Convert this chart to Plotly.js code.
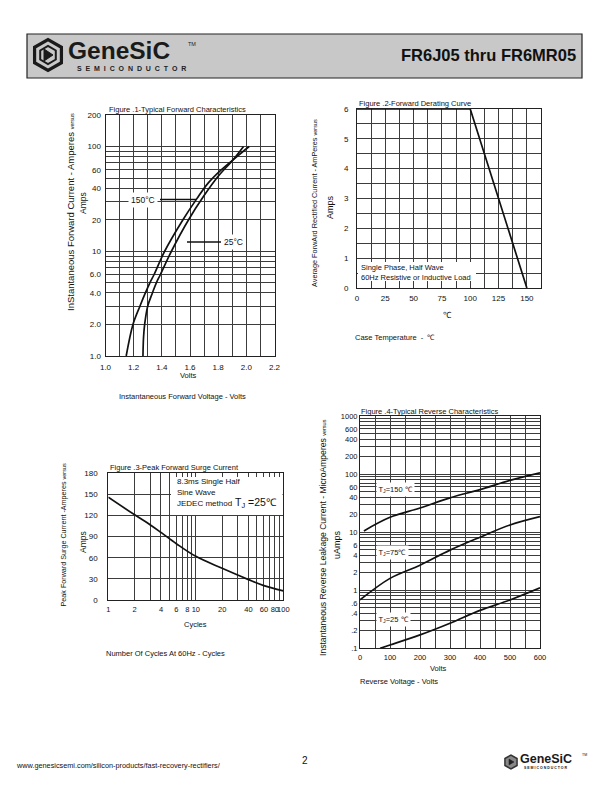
<!DOCTYPE html>
<html><head><meta charset="utf-8">
<script src="https://cdn.plot.ly/plotly-3.0.1.min.js"></script>
<style>body{margin:0;background:#fff}#p{width:612px;height:792px}</style>
</head><body><div id="p"></div>
<script>
// ---------- data ----------
const fig1Volts150 = [1.147,1.195,1.245,1.283,1.315,1.345,1.42,1.55,1.65,1.73,1.81,1.907,2.02];
const fig1Amps150  = [1,2,3,4,5,6,10,20,32,45,58,75,100];
const fig1Volts25  = [1.266,1.270,1.278,1.300,1.333,1.361,1.390,1.468,1.59,1.70,1.80,1.907,1.98];
const fig1Amps25   = [1,1.5,2,3,4,5,6,10,20,34,52,75,100];

const fig2Temp = [0,100,150];
const fig2Amps = [6,6,0];

const fig3Cycles = [1,2,3,4,6,10,20,40,60,100];
const fig3Amps   = [146,121,107,96,80,62,45,29,20.5,13];

const fig4Volts150 = [13,100,200,300,400,500,600];
const fig4uA150    = [10.5,18,26,39,54,78,105];
const fig4Volts75  = [0,100,200,300,400,500,600];
const fig4uA75     = [0.68,1.6,2.7,4.9,8.2,13.3,18.5];
const fig4Volts25  = [67,100,200,300,400,500,600];
const fig4uA25     = [0.1,0.114,0.17,0.27,0.45,0.68,1.1];

// ---------- tick labels ----------
const fig1XTicks  = [1.0,1.1,1.2,1.3,1.4,1.5,1.6,1.7,1.8,1.9,2.0,2.1,2.2];
const fig1XLabels = ['1.0','','1.2','','1.4','','1.6','','1.8','','2.0','','2.2'];
const fig1YTicks  = [1,2,3,4,5,6,7,8,9,10,20,30,40,50,60,70,80,90,100,200];
const fig1YLabels = ['1.0','2.0','','4.0','','6.0','','','','10','20','','40','','60','','','','100','200'];
const fig2XTicks  = [0,12.5,25,37.5,50,62.5,75,87.5,100,112.5,125,137.5,150,162.5];
const fig2XLabels = ['0','','25','','50','','75','','100','','125','','150',''];
const fig2YTicks  = [0,0.5,1,1.5,2,2.5,3,3.5,4,4.5,5,5.5,6];
const fig2YLabels = ['0','','1','','2','','3','','4','','5','','6'];
const fig3XTicks  = [1,2,3,4,5,6,7,8,9,10,20,30,40,50,60,70,80,90,100];
const fig3XLabels = ['1','2','','4','','6','','8','','10','20','','40','','60','','80','','100'];
const fig3YTicks  = [0,30,60,90,120,150,180];
const fig3YLabels = ['0','30','60','90','120','150','180'];
const fig4XTicks  = [0,50,100,150,200,250,300,350,400,450,500,550,600];
const fig4XLabels = ['0','','100','','200','','300','','400','','500','','600'];
const fig4YTicks  = [0.1,0.2,0.3,0.4,0.5,0.6,0.7,0.8,0.9,1,2,3,4,5,6,7,8,9,10,20,30,40,50,60,70,80,90,100,200,300,400,500,600,700,800,900,1000];
const fig4YLabels = ['.1','.2','','.4','','.6','','','','1','2','','4','','6','','','','10','20','','40','','60','','','','100','200','','400','','600','','','','1000'];

// ---------- helpers ----------
const W=612, H=792;
const F='Liberation Sans, Arial, sans-serif';
const px = x => x/W;
const py = y => 1 - y/H;
function ann(text, x, y, o={}) {
  const a = {text, x:px(x), y:py(y), xref:'paper', yref:'paper', showarrow:false,
    xanchor:o.xa||'center', yanchor:o.ya||'middle',
    font:{family:o.family||F, size:o.size||8, color:o.color||'#111'}};
  if (o.angle!==undefined) a.textangle=o.angle;
  if (o.bg) {a.bgcolor=o.bg; a.borderpad=o.pad||1;}
  if (o.align) a.align=o.align;
  return a;
}
function rect(x0,y0,x1,y1,fill,lc,lw){
  return {type:'rect',xref:'paper',yref:'paper',x0:px(x0),x1:px(x1),y0:py(y1),y1:py(y0),
    fillcolor:fill,line:{color:lc||fill,width:lw===undefined?0:lw},layer:'above'};
}
function seg(x0,y0,x1,y1,c,w){
  return {type:'line',xref:'paper',yref:'paper',x0:px(x0),x1:px(x1),y0:py(y0),y1:py(y1),
    line:{color:c||'#111',width:w||1.2},layer:'above'};
}
function poly(pts,fill,lc,lw){
  let d='M'+pts.map(p=>px(p[0]).toFixed(5)+','+py(p[1]).toFixed(5)).join('L')+'Z';
  return {type:'path',xref:'paper',yref:'paper',path:d,fillcolor:fill,line:{color:lc,width:lw},layer:'above'};
}
function hexPts(cx,cy,r){
  const p=[]; for(let i=0;i<6;i++){const a=Math.PI/6+i*Math.PI/3; p.push([cx+r*Math.cos(a),cy+r*Math.sin(a)]);} return p;
}

function axis(extra){
  return Object.assign({showline:true, mirror:true, linecolor:'#222', linewidth:1,
    showgrid:true, gridcolor:'#3c3c3c', gridwidth:1, zeroline:false, ticks:'', tickangle:0,
    tickmode:'array', tickfont:{family:F,size:8,color:'#111'}, fixedrange:true}, extra);
}
const line = {color:'#111', width:1.7, shape:'spline', smoothing:1};

const traces = [
  {x:fig1Volts150, y:fig1Amps150, xaxis:'x', yaxis:'y', mode:'lines', line},
  {x:fig1Volts25,  y:fig1Amps25,  xaxis:'x', yaxis:'y', mode:'lines', line},
  {x:fig2Temp, y:fig2Amps, xaxis:'x2', yaxis:'y2', mode:'lines', line:{color:'#111',width:1.7}},
  {x:fig3Cycles, y:fig3Amps, xaxis:'x3', yaxis:'y3', mode:'lines', line},
  {x:fig4Volts150, y:fig4uA150, xaxis:'x4', yaxis:'y4', mode:'lines', line},
  {x:fig4Volts75,  y:fig4uA75,  xaxis:'x4', yaxis:'y4', mode:'lines', line},
  {x:fig4Volts25,  y:fig4uA25,  xaxis:'x4', yaxis:'y4', mode:'lines', line},
];

const vs = t => t + ' <span style="font-size:5.5px">versus</span>';

const annotations = [
  // header
  ann('<b>FR6J05 thru FR6MR05</b>', 578, 55, {xa:'right', size:16.5, color:'#111'}),
  ann('<b>GeneSiC</b>', 66, 50, {xa:'left', size:24.5, color:'#1a1a1a'}),
  ann('TM', 186, 44, {xa:'left', size:5.5, color:'#222'}),
  ann('<b>'+'SEMICONDUCTOR'.split('').join('\u00a0\u00a0')+'</b>', 75, 68, {xa:'left', size:7, color:'#222'}),
  // chart 1
  ann('Figure .1-Typical Forward Characteristics', 107, 110, {xa:'left', size:7.5}),
  ann(vs('InStantaneous Forward Current - Amperes'), 70, 212, {angle:-90, size:9.5}),
  ann('Amps', 83, 203, {angle:-90, size:8.5}),
  ann('Volts', 188, 375, {size:7.5}),
  ann('Instantaneous Forward Voltage - Volts', 182, 396, {size:7.5}),
  ann('150°C', 143, 199.5, {size:8.5, bg:'#fff', pad:2}),
  ann('25°C', 233, 242, {size:8.5, bg:'#fff', pad:2}),
  // chart 2
  ann('Figure .2-Forward Derating Curve', 357, 104, {xa:'left', size:7.5}),
  ann(vs('Average ForwArd Rectified Current - AmPeres'), 315, 203, {angle:-90, size:7.3}),
  ann('Amps', 330, 207, {angle:-90, size:9}),
  ann('℃', 448, 315, {size:8.5}),
  ann('Case Temperature  -  ℃', 353, 338, {xa:'left', size:7.5}),
  ann('Single Phase, Half Wave<br>60Hz Resistive or Inductive Load', 359, 272, {xa:'left', size:7.5, align:'left'}),
  // chart 3
  ann('Figure .3-Peak Forward Surge Current', 108, 467, {xa:'left', size:7.5}),
  ann(vs('Peak Forward Surge Current -Amperes'), 62.5, 535, {angle:-90, size:7.2}),
  ann('Amps', 83, 542, {angle:-90, size:8.5}),
  ann('Cycles', 195, 624, {size:7.5}),
  ann('Number Of Cycles At 60Hz - Cycles', 165, 653, {size:7.5}),
  ann('8.3ms Single Half', 175, 481.5, {xa:'left', size:8}),
  ann('Sine Wave', 175, 492.5, {xa:'left', size:8}),
  ann('JEDEC method', 175, 503.5, {xa:'left', size:8}),
  ann('T<sub>J</sub> =25℃', 233, 503, {xa:'left', size:10.5}),
  // chart 4
  ann('Figure .4-Typical Reverse Characteristics', 359, 411, {xa:'left', size:7.5}),
  ann(vs('Instantaneous Reverse Leakage Current - MicroAmperes'), 323, 538, {angle:-90, size:8.6}),
  ann('uAmps', 337, 545, {angle:-90, size:9}),
  ann('Volts', 438, 668, {size:7.5}),
  ann('Reverse Voltage - Volts', 358, 681, {xa:'left', size:7.5}),
  ann('T<sub>J</sub>=150 ℃', 376, 489, {xa:'left', size:7.5, bg:'#fff', pad:1.5}),
  ann('T<sub>J</sub>=75℃', 376, 552, {xa:'left', size:7.5, bg:'#fff', pad:1.5}),
  ann('T<sub>J</sub>=25 ℃', 376, 619, {xa:'left', size:7.5, bg:'#fff', pad:1.5}),
  // footer
  ann('www.genesicsemi.com/silicon-products/fast-recovery-rectifiers/', 14, 765, {xa:'left', size:7.3}),
  ann('2', 305, 760, {size:10}),
  ann('<b>GeneSiC</b>', 518, 759, {xa:'left', size:12.5, color:'#1a1a1a'}),
  ann('TM', 580, 755, {xa:'left', size:3.5}),
  ann('<b>'+'SEMICONDUCTOR'.split('').join('\u00a0')+'</b>', 522, 768, {xa:'left', size:3.5}),
];

const shapes = [
  rect(27,34,582,78,'#c8c8c8','#222',1.2),
  // header logo icon
  poly(hexPts(48,55,15.5),'#c8c8c8','#1a1a1a',3.2),
  poly(hexPts(48,55,9),'#c8c8c8','#1a1a1a',2),
  poly([[44,49],[44,61],[53,55]],'#1a1a1a','#1a1a1a',1),
  // footer logo icon
  poly(hexPts(511,762,7),'#888','#333',1.5),
  poly([[509,759],[509,765],[514,762]],'#222','#222',0.5),
  // white boxes
  rect(358,262,476,281,'#ffffff'),
  rect(171,477,282.5,515,'#ffffff'),
  // leader lines
  seg(160,199.5,196,199.5,'#111',1.3),
  seg(187,242,221,242,'#111',1.3),
];

const layout = {
  width:W, height:H, margin:{l:0,r:0,t:0,b:0}, showlegend:false,
  paper_bgcolor:'#fff', plot_bgcolor:'#fff',
  xaxis: axis({domain:[px(105.5),px(274.5)], range:[1.0,2.2], anchor:'y', tickvals:fig1XTicks, ticktext:fig1XLabels, ticklabelstandoff:3}),
  yaxis: axis({type:'log', domain:[py(356),py(115)], range:[0,Math.log10(200)], anchor:'x', tickvals:fig1YTicks, ticktext:fig1YLabels, ticklabelstandoff:2}),
  xaxis2: axis({domain:[px(357),px(541)], range:[0,162.5], anchor:'y2', tickvals:fig2XTicks, ticktext:fig2XLabels, ticklabelstandoff:2}),
  yaxis2: axis({domain:[py(288),py(109)], range:[0,6], anchor:'x2', tickvals:fig2YTicks, ticktext:fig2YLabels, ticklabelstandoff:6}),
  xaxis3: axis({type:'log', domain:[px(108.3),px(283.3)], range:[0,2], anchor:'y3', tickvals:fig3XTicks, ticktext:fig3XLabels, ticklabelstandoff:2, tickfont:{family:F,size:7.5,color:'#111'}}),
  yaxis3: axis({domain:[py(600),py(473.3)], range:[0,180], anchor:'x3', tickvals:fig3YTicks, ticktext:fig3YLabels, ticklabelstandoff:8}),
  xaxis4: axis({domain:[px(360),px(540)], range:[0,600], anchor:'y4', tickvals:fig4XTicks, ticktext:fig4XLabels, ticklabelstandoff:2, tickfont:{family:F,size:7.5,color:'#111'}}),
  yaxis4: axis({type:'log', domain:[py(648.3),py(416)], range:[-1,3], anchor:'x4', tickvals:fig4YTicks, ticktext:fig4YLabels, ticklabelstandoff:0, tickfont:{family:F,size:7.5,color:'#111'}}),
  annotations, shapes
};
Plotly.newPlot('p', traces, layout, {staticPlot:true, displayModeBar:false});
</script></body></html>
